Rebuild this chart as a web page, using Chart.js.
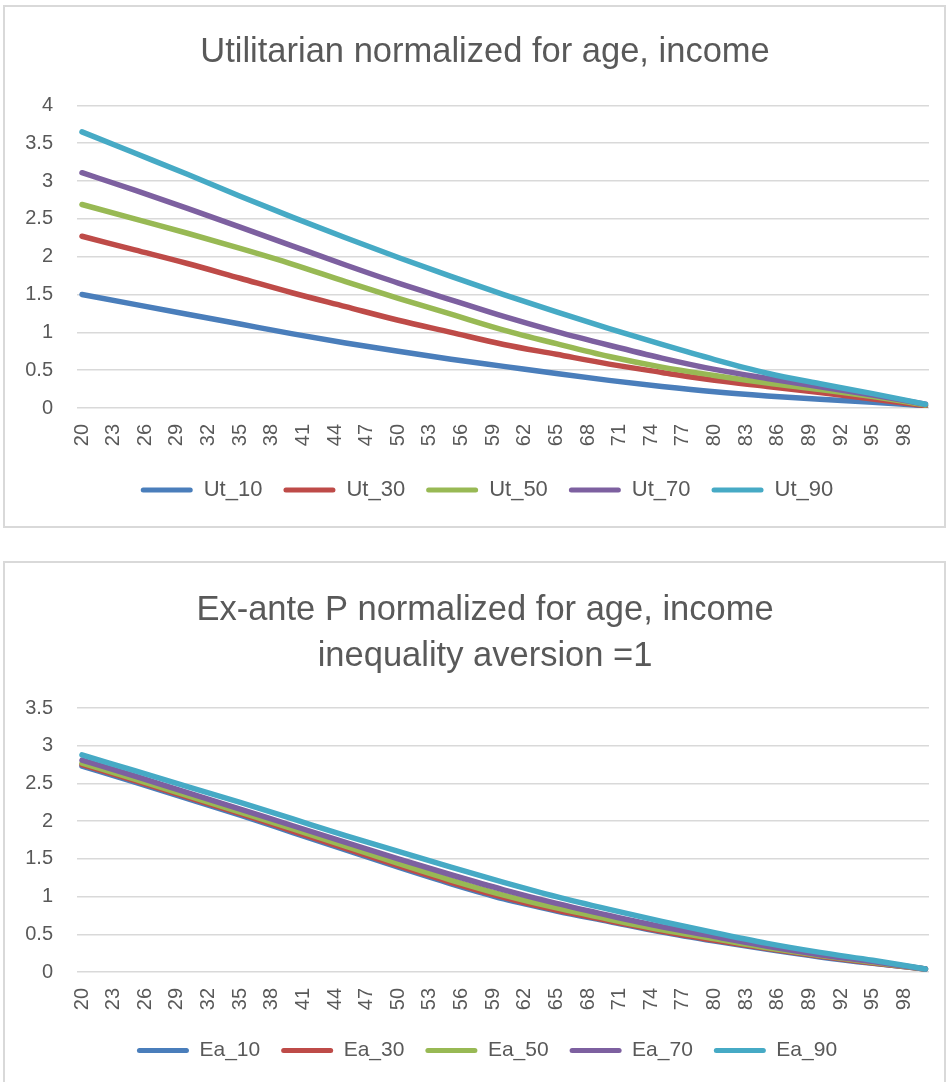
<!DOCTYPE html>
<html>
<head>
<meta charset="utf-8">
<script src="https://cdn.jsdelivr.net/npm/chart.js@4.4.1/dist/chart.umd.min.js"></script>
<style>
  html, body { margin: 0; padding: 0; background: #ffffff; }
  body { width: 946px; height: 1082px; position: relative; overflow: hidden; }
  .frame { position: absolute; border: 2px solid #d9d9d9; background: #ffffff; }
  #f1 { left: 3px; top: 5px; }
  #f2 { left: 3px; top: 561px; }
  canvas { display: block; }
</style>
</head>
<body>
<div class="frame" id="f1"><canvas id="c1" width="939" height="519"></canvas></div>
<div class="frame" id="f2"><canvas id="c2" width="939" height="523"></canvas></div>
<script>
// Ages along the horizontal axis (values sampled every five years)
const ages = [20, 25, 30, 35, 40, 45, 50, 55, 60, 65, 70, 75, 80, 85, 90, 95, 100];
// Age labels printed under the axis
const tickAges = [20, 23, 26, 29, 32, 35, 38, 41, 44, 47, 50, 53, 56, 59, 62, 65, 68, 71, 74, 77, 80, 83, 86, 89, 92, 95, 98];

// Utilitarian weights by income percentile
const ut10 = [1.50, 1.37, 1.24, 1.11, 0.98, 0.86, 0.75, 0.645, 0.55, 0.455, 0.365, 0.285, 0.215, 0.16, 0.115, 0.075, 0.03];
const ut30 = [2.27, 2.09, 1.91, 1.715, 1.52, 1.34, 1.16, 1.00, 0.84, 0.71, 0.58, 0.47, 0.365, 0.285, 0.205, 0.12, 0.03];
const ut50 = [2.69, 2.50, 2.31, 2.11, 1.90, 1.67, 1.45, 1.24, 1.03, 0.85, 0.68, 0.54, 0.43, 0.33, 0.245, 0.15, 0.04];
const ut70 = [3.11, 2.88, 2.64, 2.39, 2.14, 1.89, 1.65, 1.43, 1.21, 1.01, 0.83, 0.66, 0.51, 0.39, 0.28, 0.17, 0.05];
const ut90 = [3.65, 3.37, 3.09, 2.80, 2.52, 2.25, 1.99, 1.74, 1.50, 1.27, 1.05, 0.84, 0.64, 0.46, 0.32, 0.19, 0.05];

// Ex-ante prioritarian weights (inequality aversion = 1)
const ea10 = [2.73, 2.52, 2.30, 2.08, 1.85, 1.62, 1.39, 1.17, 0.97, 0.81, 0.67, 0.53, 0.41, 0.30, 0.20, 0.115, 0.04];
const ea30 = [2.75, 2.54, 2.32, 2.10, 1.87, 1.64, 1.41, 1.19, 0.99, 0.82, 0.68, 0.54, 0.42, 0.31, 0.21, 0.12, 0.04];
const ea50 = [2.77, 2.56, 2.34, 2.12, 1.90, 1.67, 1.44, 1.22, 1.02, 0.85, 0.70, 0.56, 0.44, 0.32, 0.22, 0.13, 0.04];
const ea70 = [2.81, 2.60, 2.38, 2.16, 1.94, 1.72, 1.50, 1.29, 1.09, 0.91, 0.75, 0.60, 0.47, 0.34, 0.23, 0.14, 0.04];
const ea90 = [2.88, 2.67, 2.46, 2.25, 2.03, 1.81, 1.60, 1.39, 1.19, 1.00, 0.83, 0.67, 0.52, 0.38, 0.26, 0.155, 0.04];

const seriesColors = ['#4A7EBB', '#BE4B48', '#98B954', '#7D60A0', '#46AAC5'];
const FONT = "'Liberation Sans', Arial, sans-serif";
const TEXT = '#595959';

// Centre the title and legend over the plot area rather than the whole canvas
const centreOverPlot = {
  id: 'centreOverPlot',
  afterLayout(chart) {
    const t = chart.titleBlock, lg = chart.legend;
    if (t) { t.left += 18; t.right += 18; }
    if (lg) { lg.left += 20; lg.right += 20; }
  }
};

function makeDatasets(names, arrays) {
  return arrays.map((vals, i) => ({
    label: names[i],
    data: vals.map((v, k) => ({ x: ages[k], y: v })),
    borderColor: seriesColors[i],
    backgroundColor: seriesColors[i],
    borderWidth: 5.5,
    borderCapStyle: 'round',
    borderJoinStyle: 'round',
    pointRadius: 0,
    cubicInterpolationMode: 'monotone',
    fill: false,
    order: arrays.length - i   // later series drawn on top
  }));
}

function makeOptions(cfg) {
  return {
    responsive: false,
    animation: false,
    devicePixelRatio: 1,
    layout: { padding: { left: 0, right: 15, top: 0, bottom: cfg.padBottom } },
    plugins: {
      tooltip: { enabled: false },
      title: {
        display: true,
        text: cfg.title,
        color: TEXT,
        font: { family: FONT, size: 34.5, weight: 'normal', lineHeight: cfg.titleLineHeight },
        padding: cfg.titlePadding
      },
      legend: {
        position: 'bottom',
        labels: {
          color: TEXT,
          font: { family: FONT, size: cfg.legendSize },
          boxWidth: 52,
          boxHeight: 5,
          useBorderRadius: true,
          borderRadius: 2.5,
          padding: 21,
          sort: (a, b) => a.datasetIndex - b.datasetIndex,
          generateLabels: (chart) =>
            Chart.defaults.plugins.legend.labels.generateLabels(chart).map(l => Object.assign(l, { lineWidth: 0 }))
        }
      }
    },
    scales: {
      x: {
        type: 'linear',
        min: 19.526,
        max: 100.336,
        afterBuildTicks: (axis) => { axis.ticks = tickAges.map(v => ({ value: v })); },
        afterFit: (axis) => { axis.height = cfg.xHeight; },
        grid: { display: false },
        border: { display: false },
        ticks: {
          autoSkip: false,
          minRotation: 90,
          maxRotation: 90,
          padding: 8,
          color: TEXT,
          font: { family: FONT, size: 20 },
          callback: (v) => String(v)
        }
      },
      y: {
        min: 0,
        max: cfg.yMax,
        afterFit: (axis) => { axis.width = 72; },
        grid: { color: '#d9d9d9', lineWidth: 1.5, drawTicks: false },
        border: { display: false },
        ticks: {
          stepSize: 0.5,
          padding: 24,
          color: TEXT,
          font: { family: FONT, size: 20 },
          callback: (v) => String(v)
        }
      }
    }
  };
}

new Chart(document.getElementById('c1'), {
  type: 'line',
  data: { datasets: makeDatasets(['Ut_10', 'Ut_30', 'Ut_50', 'Ut_70', 'Ut_90'], [ut10, ut30, ut50, ut70, ut90]) },
  options: makeOptions({
    title: 'Utilitarian normalized for age, income',
    titleLineHeight: 1.2,
    titlePadding: { top: 25, bottom: 32 },
    yMax: 4,
    xHeight: 50,
    padBottom: 15,
    legendSize: 22
  }),
  plugins: [centreOverPlot]
});

new Chart(document.getElementById('c2'), {
  type: 'line',
  data: { datasets: makeDatasets(['Ea_10', 'Ea_30', 'Ea_50', 'Ea_70', 'Ea_90'], [ea10, ea30, ea50, ea70, ea90]) },
  options: makeOptions({
    title: ['Ex-ante P normalized for age, income', 'inequality aversion =1'],
    titleLineHeight: 1.35,
    titlePadding: { top: 24, bottom: 28 },
    yMax: 3.5,
    xHeight: 47,
    padBottom: 15,
    legendSize: 21
  }),
  plugins: [centreOverPlot]
});
</script>
</body>
</html>
